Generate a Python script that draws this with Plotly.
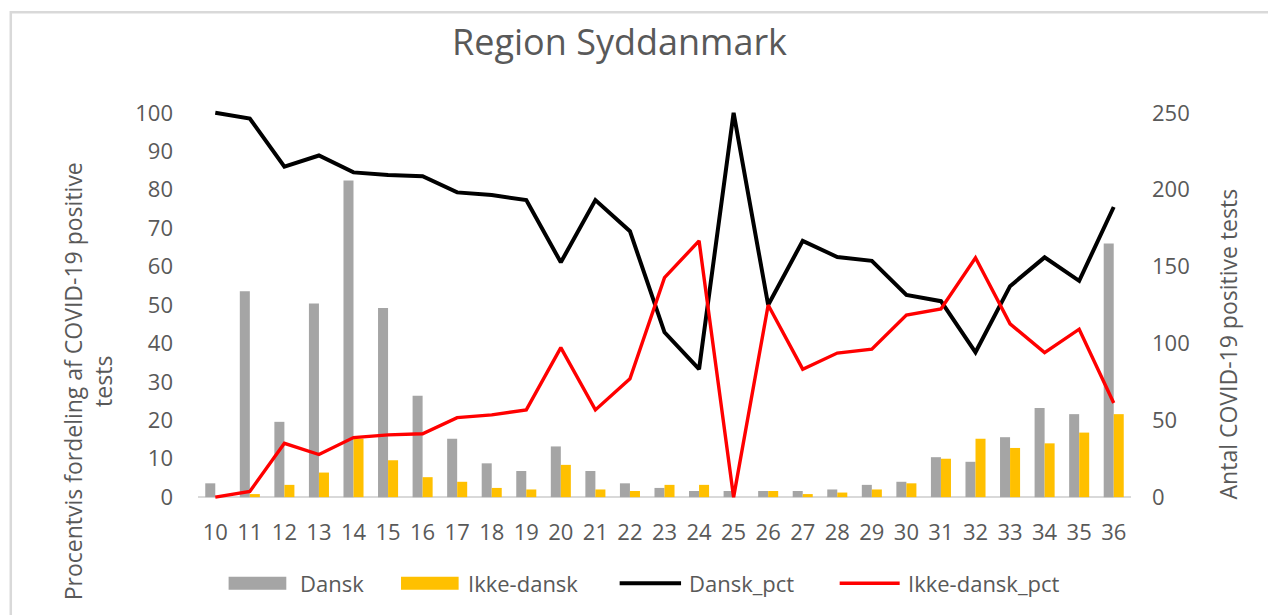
import plotly.graph_objects as go

# ---------------- data ----------------
weeks = [str(w) for w in range(10, 37)]
dansk = [9, 134, 49, 126, 206, 123, 66, 38, 22, 17, 33, 17, 9, 6, 4, 4, 4, 4, 5, 8, 10, 26, 23, 39, 58, 54, 165]
ikke_dansk = [0, 2, 8, 16, 38, 24, 13, 10, 6, 5, 21, 5, 4, 8, 8, 0, 4, 2, 3, 5, 9, 25, 38, 32, 35, 42, 54]
dansk_pct = [100, 98.5, 86.0, 88.9, 84.5, 83.8, 83.5, 79.3, 78.6, 77.3, 61.1, 77.3, 69.2, 42.9, 33.3,
             100, 50.0, 66.7, 62.5, 61.5, 52.6, 51.0, 37.7, 54.9, 62.4, 56.3, 75.5]
ikke_dansk_pct = [0, 1.5, 14.0, 11.1, 15.5, 16.2, 16.5, 20.7, 21.4, 22.7, 38.9, 22.7, 30.8, 57.1, 66.7,
                  0, 50.0, 33.3, 37.5, 38.5, 47.4, 49.0, 62.3, 45.1, 37.6, 43.7, 24.5]
pct_ticks = list(range(0, 101, 10))
count_ticks = list(range(0, 251, 50))

# ---------------- layout geometry (pixels) ----------------
W, H = 1268, 615
PL, PR = 197.7, 1130.6          # plot area left/right
PT, PB = 109.16, 500.84         # plot area top/bottom (ranges padded by 1%)
FONT = "Open Sans"
GREY_TXT = "#595959"


def px_x(px):
    return (px - PL) / (PR - PL)


def px_y(py):
    return (PB - py) / (PB - PT)


fig = go.Figure()
fig.add_trace(go.Bar(x=weeks, y=dansk, name="Dansk", marker_color="#A5A5A5",
                     marker_line_width=0, yaxis="y", showlegend=False))
fig.add_trace(go.Bar(x=weeks, y=ikke_dansk, name="Ikke-dansk", marker_color="#FFC000",
                     marker_line_width=0, yaxis="y", showlegend=False))
fig.add_trace(go.Scatter(x=weeks, y=dansk_pct, name="Dansk_pct", mode="lines",
                         line=dict(color="#000000", width=4), yaxis="y2", showlegend=False))
fig.add_trace(go.Scatter(x=weeks, y=ikke_dansk_pct, name="Ikke-dansk_pct", mode="lines",
                         line=dict(color="#FF0000", width=3.4), yaxis="y2", showlegend=False))

tickfont = dict(family=FONT, size=22, color=GREY_TXT)

fig.update_layout(
    width=W, height=H,
    margin=dict(l=PL, r=W - PR, t=PT, b=H - PB, autoexpand=False),
    paper_bgcolor="white", plot_bgcolor="white",
    barmode="group", bargap=0.42, bargroupgap=0,
    showlegend=False,
    xaxis=dict(type="category", tickfont=tickfont, showgrid=False, showline=False,
               zeroline=False, ticks="", ticklabelstandoff=16),
    yaxis=dict(side="right", range=[-2.5, 252.5], tickvals=count_ticks, tickfont=tickfont,
               showgrid=False, showline=False, zeroline=True, zerolinecolor="#D9D9D9",
               zerolinewidth=2, ticks="", ticklabelstandoff=20),
    yaxis2=dict(side="left", overlaying="y", range=[-1, 101], tickvals=pct_ticks, tickfont=tickfont,
                showgrid=False, showline=False, zeroline=False, ticks="", ticklabelstandoff=24),
)

annotations = [
    dict(text="Region Syddanmark", x=px_x(619), y=px_y(42), xref="paper", yref="paper",
         xanchor="center", yanchor="middle", showarrow=False,
         font=dict(family=FONT, size=36, color=GREY_TXT)),
    dict(text="Procentvis fordeling af COVID-19 positive<br>tests", x=px_x(88), y=px_y(381),
         xref="paper", yref="paper", xanchor="center", yanchor="middle", showarrow=False,
         textangle=-90, font=dict(family=FONT, size=23, color=GREY_TXT)),
    dict(text="Antal COVID-19 positive tests", x=px_x(1228), y=px_y(344),
         xref="paper", yref="paper", xanchor="center", yanchor="middle", showarrow=False,
         textangle=-90, font=dict(family=FONT, size=23, color=GREY_TXT)),
]

# manual legend
legend_items = [
    ("Dansk", "#A5A5A5", "box", 228.3, 286.0, 297.3),
    ("Ikke-dansk", "#FFC000", "box", 400.7, 458.3, 466.0),
    ("Dansk_pct", "#000000", "line", 619.3, 680.7, 686.7),
    ("Ikke-dansk_pct", "#FF0000", "line", 839.3, 899.3, 906.0),
]
shapes = []
LEG_Y = 583
for label, color, kind, x0, x1, tx in legend_items:
    if kind == "box":
        shapes.append(dict(type="rect", xref="paper", yref="paper",
                           x0=px_x(x0), x1=px_x(x1), y0=px_y(589.5), y1=px_y(576.5),
                           fillcolor=color, line=dict(width=0)))
    else:
        shapes.append(dict(type="line", xref="paper", yref="paper",
                           x0=px_x(x0), x1=px_x(x1), y0=px_y(LEG_Y), y1=px_y(LEG_Y),
                           line=dict(color=color, width=4 if color == "#000000" else 3.5)))
    annotations.append(dict(text=label, x=px_x(tx), y=px_y(LEG_Y), xref="paper", yref="paper",
                            xanchor="left", yanchor="middle", showarrow=False,
                            font=dict(family=FONT, size=22, color=GREY_TXT)))

# outer chart frame
shapes.append(dict(type="rect", xref="paper", yref="paper",
                   x0=px_x(10.5), x1=px_x(1290), y0=px_y(12.5), y1=px_y(640),
                   line=dict(color="#D9D9D9", width=2.5), fillcolor="rgba(0,0,0,0)", layer="below"))

fig.update_layout(annotations=annotations, shapes=shapes)
fig.write_html("out.html", config={"displayModeBar": False},
               post_script="document.body.style.margin='0';document.body.style.overflow='hidden';")
